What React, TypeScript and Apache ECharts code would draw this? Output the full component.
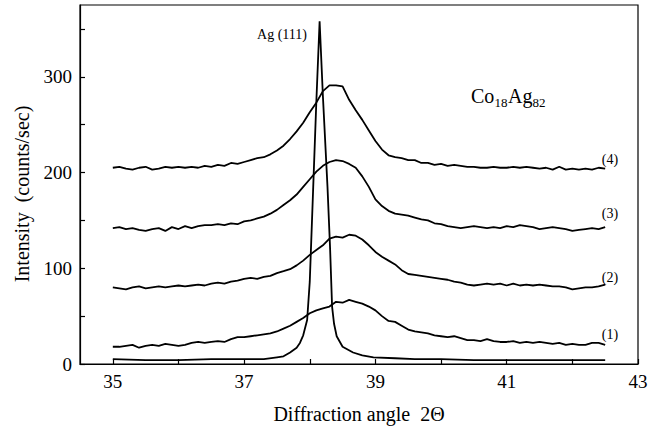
import React, { useEffect, useRef } from "react";
import * as echarts from "echarts";

const angles = [
  35.0, 35.1, 35.2, 35.3, 35.4, 35.5, 35.6, 35.7, 35.8, 35.9,
  36.0, 36.1, 36.2, 36.3, 36.4, 36.5, 36.6, 36.7, 36.8, 36.9,
  37.0, 37.1, 37.2, 37.3, 37.4, 37.5, 37.6, 37.7, 37.8, 37.9,
  38.0, 38.1, 38.2, 38.3, 38.4, 38.5, 38.6, 38.7, 38.8, 38.9,
  39.0, 39.1, 39.2, 39.3, 39.4, 39.5, 39.6, 39.7, 39.8, 39.9,
  40.0, 40.1, 40.2, 40.3, 40.4, 40.5, 40.6, 40.7, 40.8, 40.9,
  41.0, 41.1, 41.2, 41.3, 41.4, 41.5, 41.6, 41.7, 41.8, 41.9,
  42.0, 42.1, 42.2, 42.3, 42.4, 42.5,
];

const curve4 = [
  205, 206, 204, 203, 205, 206, 203, 204, 206, 205,
  206, 205, 206, 205, 207, 206, 208, 207, 210, 209,
  211, 213, 215, 216, 219, 223, 228, 235, 243, 252,
  263, 273, 285, 291, 291, 290, 276, 265, 255, 244,
  233, 224, 218, 216, 215, 213, 213, 210, 210, 208,
  209, 207, 208, 207, 206, 206, 205, 205, 206, 205,
  205, 206, 205, 206, 205, 204, 205, 203, 206, 203,
  204, 203, 204, 203, 205, 204,
];

const curve3 = [
  142, 143, 141, 142, 140, 139, 141, 142, 139, 143,
  141, 144, 142, 144, 145, 145, 146, 145, 147, 146,
  149, 150, 152, 154, 157, 161, 166, 171, 177, 185,
  193, 201, 207, 211, 213, 212, 209, 205, 196, 185,
  172, 165, 160, 157, 156, 155, 153, 151, 150, 147,
  146, 144, 143, 142, 143, 144, 143, 142, 143, 142,
  144, 143, 145, 144, 143, 141, 142, 143, 142, 141,
  139, 140, 141, 142, 141, 143,
];

const curve2 = [
  80, 79, 78, 80, 81, 79, 80, 81, 80, 81,
  82, 81, 82, 83, 82, 84, 85, 84, 86, 87,
  89, 90, 89, 91, 92, 95, 97, 99, 103, 108,
  114, 119, 124, 131, 133, 132, 135, 134, 130, 124,
  117, 112, 108, 104, 98, 94, 93, 92, 91, 90,
  89, 88, 86, 85, 83, 82, 83, 84, 83, 84,
  82, 84, 82, 83, 82, 83, 82, 81, 81, 80,
  78, 79, 80, 80, 81, 83,
];

const curve1 = [
  18, 18, 19, 20, 17, 19, 20, 19, 21, 20,
  19, 20, 22, 23, 22, 23, 24, 23, 26, 28,
  28, 29, 30, 31, 32, 34, 37, 40, 44, 48,
  53, 56, 58, 60, 65, 64, 67, 65, 63, 60,
  56, 50, 45, 44, 40, 36, 34, 33, 32, 30,
  29, 28, 29, 27, 25, 25, 24, 26, 24, 23,
  23, 24, 22, 23, 22, 23, 22, 21, 22, 20,
  21, 20, 20, 22, 22, 20,
];

const agAngles = [
  35.0, 35.5, 36.0, 36.5, 37.0, 37.3, 37.5, 37.6, 37.7, 37.8,
  37.85, 37.9, 37.96, 38.0, 38.05, 38.1, 38.15, 38.2, 38.27, 38.31,
  38.34, 38.37, 38.41, 38.5, 38.66, 38.8, 38.97, 39.3, 39.6, 40.0,
  40.5, 41.0, 41.5, 42.0, 42.5,
];
const agValues = [
  5, 4, 4, 5, 5, 5, 7, 8, 12, 17,
  22, 30, 46, 86, 180, 274, 358, 280, 185, 120,
  60, 42, 29, 18, 12, 9, 7, 6, 5, 5,
  4, 4, 4, 4, 4,
];

const xTickValues = [35, 36, 37, 38, 39, 40, 41, 42, 43];
const xLabelValues = [35, 37, 39, 41, 43];
const yTickValues = [0, 50, 100, 150, 200, 250, 300, 350];
const yLabelValues = [0, 100, 200, 300];

const curveLabels = ["(1)", "(2)", "(3)", "(4)"];

const SERIF = '"Liberation Serif", "Times New Roman", serif';

function pairs(xs: number[], ys: number[]) {
  return xs.map((x, i) => [x, ys[i]]);
}

export default function App() {
  const ref = useRef<HTMLDivElement>(null);
  useEffect(() => {
    if (!ref.current) return;
    const chart = echarts.init(ref.current, null, { renderer: "svg" });
    const lineStyle = { color: "#000", width: 1.8 };
    const mk = (name: string, data: number[][]) => ({
      name,
      type: "line",
      data,
      showSymbol: false,
      symbol: "none",
      lineStyle,
      silent: true,
    });
    const txt = (text: string, x: number, y: number, size: number, align = "center") => ({
      type: "text",
      x,
      y,
      style: {
        text,
        fontSize: size,
        fontFamily: SERIF,
        fill: "#000",
        align,
        verticalAlign: "middle",
      },
    });
    chart.setOption({
      animation: false,
      backgroundColor: "#fff",
      grid: {
        left: 80,
        right: 19,
        top: 5,
        bottom: 66,
        show: true,
        borderColor: "#000",
        borderWidth: 1.2,
        backgroundColor: "transparent",
      },
      xAxis: {
        type: "value",
        min: 34.5,
        max: 43,
        name: "Diffraction angle  2\u0398",
        nameLocation: "middle",
        nameGap: 40,
        nameTextStyle: { fontSize: 20, fontFamily: SERIF, color: "#000" },
        axisLine: { show: true, lineStyle: { color: "#000", width: 1.2 } },
        axisTick: {
          show: true,
          inside: true,
          length: 5,
          customValues: xTickValues,
          lineStyle: { color: "#000", width: 1.2 },
        },
        axisLabel: {
          show: true,
          customValues: xLabelValues,
          margin: 8,
          fontSize: 19,
          fontFamily: SERIF,
          color: "#000",
        },
        splitLine: { show: false },
      },
      yAxis: {
        type: "value",
        min: 0,
        max: 375,
        axisLine: { show: true, lineStyle: { color: "#000", width: 1.2 } },
        axisTick: {
          show: true,
          inside: true,
          length: 5,
          customValues: yTickValues,
          lineStyle: { color: "#000", width: 1.2 },
        },
        axisLabel: {
          show: true,
          customValues: yLabelValues,
          margin: 8,
          fontSize: 19,
          fontFamily: SERIF,
          color: "#000",
        },
        splitLine: { show: false },
      },
      series: [
        mk("Ag", pairs(agAngles, agValues)),
        mk("1", pairs(angles, curve1)),
        mk("2", pairs(angles, curve2)),
        mk("3", pairs(angles, curve3)),
        mk("4", pairs(angles, curve4)),
      ],
      graphic: [
        {
          type: "text",
          x: 22,
          y: 194,
          rotation: Math.PI / 2,
          style: {
            text: "Intensity  (counts/sec)",
            fontSize: 20,
            fontFamily: SERIF,
            fill: "#000",
            align: "center",
            verticalAlign: "middle",
          },
        },
        txt("Ag (111)", 282, 34, 14),
        txt(curveLabels[3], 610, 159, 14),
        txt(curveLabels[2], 610, 213, 14),
        txt(curveLabels[1], 610, 277, 14),
        txt(curveLabels[0], 610, 334, 14),
        txt("Co", 471, 96, 20, "left"),
        txt("18", 494.5, 102, 13, "left"),
        txt("Ag", 508, 96, 20, "left"),
        txt("82", 532.5, 102, 13, "left"),
      ],
    });
    return () => chart.dispose();
  }, []);
  return (
    <div
      ref={ref}
      style={{ position: "fixed", left: 0, top: 0, width: 657, height: 430, background: "#fff" }}
    />
  );
}
